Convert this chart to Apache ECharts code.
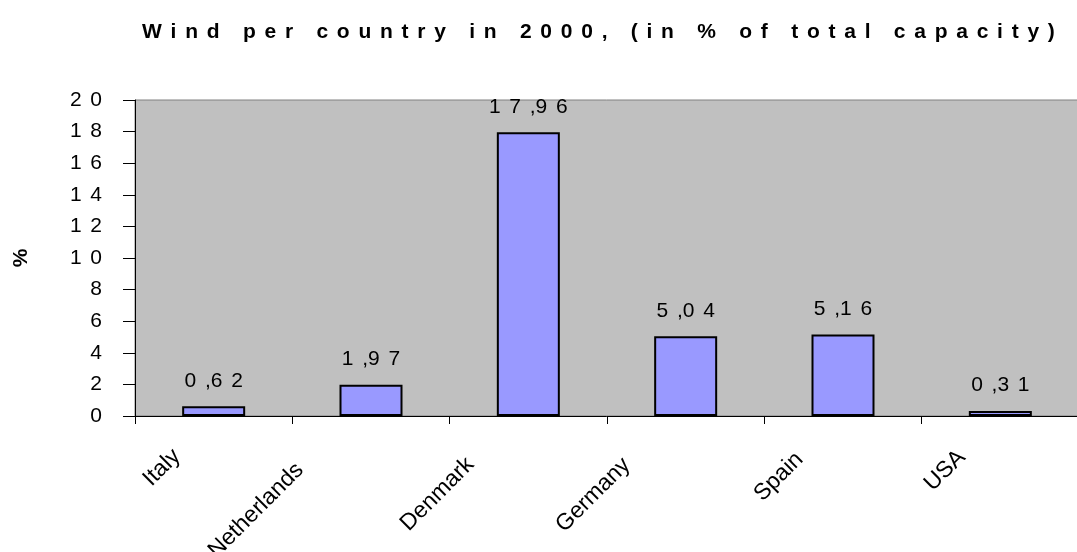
<!DOCTYPE html>
<html>
<head>
<meta charset="utf-8">
<script src="https://cdn.jsdelivr.net/npm/echarts@6/dist/echarts.min.js"></script>
<style>
  html, body { margin: 0; padding: 0; background: #fff; }
  #chart { width: 1077px; height: 552px; }
</style>
</head>
<body>
<div id="chart"></div>
<script>
const titleText = "Wind per country in 2000, (in % of total capacity)";
const countries = ["Italy", "Netherlands", "Denmark", "Germany", "Spain", "USA"];
const windShare = [0.62, 1.97, 17.96, 5.04, 5.16, 0.31];

const FONT = "'Liberation Sans', Arial, sans-serif";
// the old Excel export draws text with wide letter gaps
const GAP_WIDE = "\u2005\u2006";

const spaced = (s, gap) => s.split("").join(gap);
// "17,96" -> "1 7 ,9 6" (comma sticks to the next digit like in the original)
const spacedValue = (v) => spaced(v.toFixed(2).replace(".", ","), GAP_WIDE).replace("," + GAP_WIDE, ",");

// measure label widths so the rotated labels get offsets like the original
const measureCtx = document.createElement("canvas").getContext("2d");
measureCtx.font = "21px " + FONT;

const rich = {};
countries.forEach((c, i) => {
  const w = measureCtx.measureText(c).width;
  rich["c" + i] = {
    fontSize: 23,
    fontFamily: FONT,
    color: "#000",
    padding: [0, Math.round(35 + 0.45 * w), Math.max(0, Math.round(0.4 * (w - 40))), 0],
  };
});

const chart = echarts.init(document.getElementById("chart"));

const option = {
  animation: false,
  backgroundColor: "#fff",
  title: {
    text: spaced(titleText, GAP_WIDE),
    left: 137,
    top: 17,
    textStyle: { fontFamily: FONT, fontSize: 21, fontWeight: "bold", color: "#000" },
  },
  grid: {
    left: 135,
    top: 100,
    width: 944,
    height: 316,
    outerBoundsMode: "none",
    containLabel: false,
    show: true,
    backgroundColor: "#C0C0C0",
    borderColor: "#808080",
    borderWidth: 1,
  },
  xAxis: {
    type: "category",
    data: countries,
    axisLine: { lineStyle: { color: "#000", width: 1 } },
    axisTick: { show: true, length: 8, lineStyle: { color: "#000" } },
    axisLabel: {
      interval: 0,
      rotate: 45,
      margin: 0,
      formatter: (v, i) => `{c${i}|${v}}`,
      rich: rich,
    },
  },
  yAxis: {
    type: "value",
    min: 0,
    max: 20,
    interval: 2,
    name: "%",
    nameLocation: "middle",
    nameRotate: 90,
    nameGap: 103,
    nameTextStyle: { fontFamily: FONT, fontSize: 21, fontWeight: "bold", color: "#000" },
    axisLine: { show: true, lineStyle: { color: "#000", width: 1 } },
    axisTick: { show: true, length: 12, lineStyle: { color: "#000" } },
    splitLine: { show: false },
    axisLabel: {
      margin: 33,
      fontFamily: FONT,
      fontSize: 21,
      color: "#000",
      formatter: (v) => spaced(String(v), GAP_WIDE),
    },
  },
  series: [
    {
      type: "bar",
      data: windShare,
      barWidth: 63,
      itemStyle: { color: "#9999FF", borderColor: "#000", borderWidth: 2 },
      label: {
        show: true,
        position: "top",
        distance: 15,
        fontFamily: FONT,
        fontSize: 21,
        color: "#000",
        formatter: (p) => spacedValue(p.value),
      },
    },
  ],
};

chart.setOption(option);
</script>
</body>
</html>
